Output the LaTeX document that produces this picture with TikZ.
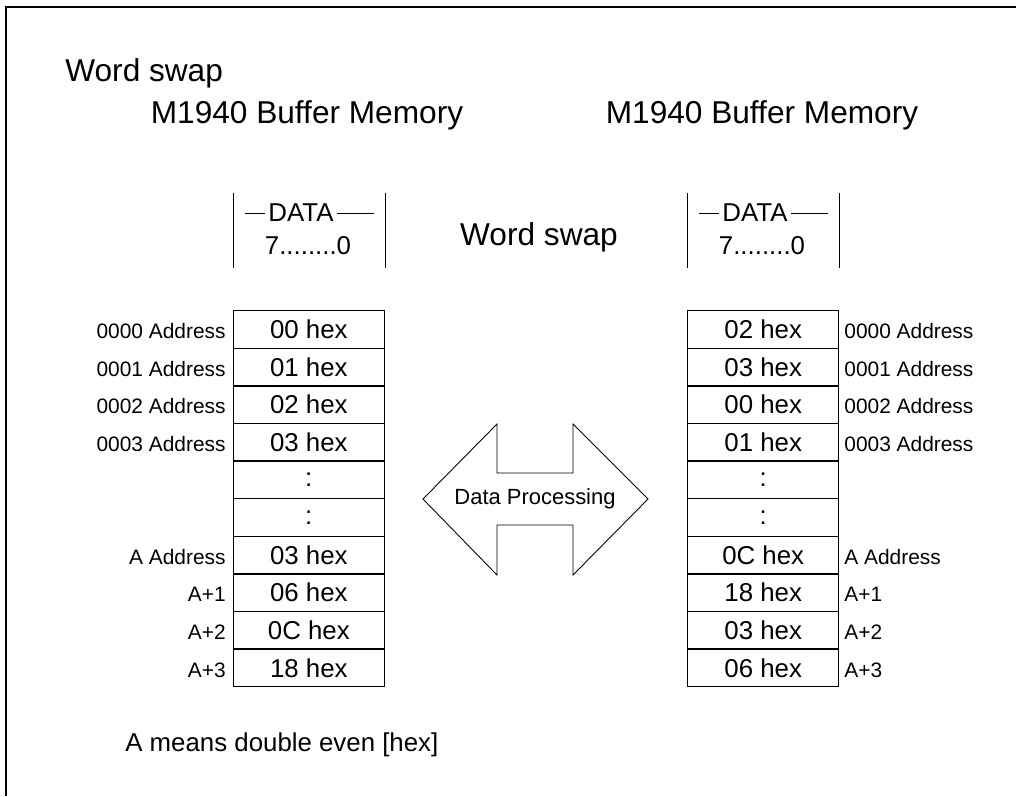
\documentclass[tikz,border=0pt]{standalone}
\usepackage{fontspec}
\setmainfont{Liberation Sans}
\usepackage{tikz}
\usetikzlibrary{matrix}
\usetikzlibrary{positioning}

\newcommand\titlefont{\fontsize{18}{21}\selectfont}
\newcommand\cellfont{\fontsize{14.7}{17}\selectfont}
\newcommand\addrfont{\fontsize{11.9}{14}\selectfont}

\tikzset{
   memcell/.style={draw, line width=0.8pt, inner sep=0pt, anchor=base,
      minimum width=3.02cm, minimum height=0.752cm, font=\cellfont},
   addrlabel/.style={inner sep=0pt, font=\addrfont},
   bar/.style={line width=0.5pt},
}

\begin{document}
\begin{tikzpicture}[x=0.02cm, y=-0.02cm]
   \useasboundingbox (0,0) rectangle (1016,796);
   \draw[line width=1.3pt] (6,796) -- (6,7) -- (1016,7);

   \node[anchor=west, inner sep=0pt, font=\titlefont] (title) at (65,73) {Word swap};
   \node[font=\titlefont] (memL) at (307,115) {M1940 Buffer Memory};
   \node[font=\titlefont] (memR) at (762,115) {M1940 Buffer Memory};
   \node[font=\titlefont] (swap) at (539,237) {Word swap};

   \node[font=\cellfont, inner sep=0.06cm] (dataL) at (301,213) {DATA};
   \draw[bar] (dataL.west) -- ++(-20,0);
   \draw[bar] (dataL.east) -- ++(37,0);
   \node[font=\cellfont] (bitsL) at (308,246) {7........0};
   \draw[bar] (233,193) -- (233,268);
   \draw[bar] (385,193) -- (385,268);

   \node[font=\cellfont, inner sep=0.06cm] (dataR) at (755,213) {DATA};
   \draw[bar] (dataR.west) -- ++(-20,0);
   \draw[bar] (dataR.east) -- ++(37,0);
   \node[font=\cellfont] (bitsR) at (762,246) {7........0};
   \draw[bar] (687,193) -- (687,268);
   \draw[bar] (839,193) -- (839,268);

   \matrix(L) [
      matrix of nodes,
      matrix anchor=north east, inner sep=0pt, outer sep=0pt,
      column sep=0.14cm, row sep=-0.8pt,
      column 1/.style={nodes={addrlabel, anchor=base east}},
      column 2/.style={nodes={memcell}}
   ] at (385,310) {
      0000 Address & 00 hex \\
      0001 Address & 01 hex \\
      0002 Address & 02 hex \\
      0003 Address & 03 hex \\
                   & :      \\
                   & :      \\
      A Address    & 03 hex \\
      A+1          & 06 hex \\
      A+2          & 0C hex \\
      A+3          & 18 hex \\
   };

   \matrix(R) [
      matrix of nodes,
      matrix anchor=north west, inner sep=0pt, outer sep=0pt,
      column sep=0.1cm, row sep=-0.8pt,
      column 1/.style={nodes={memcell}},
      column 2/.style={nodes={addrlabel, anchor=base west}}
   ] at (687,310) {
      02 hex & 0000 Address \\
      03 hex & 0001 Address \\
      00 hex & 0002 Address \\
      01 hex & 0003 Address \\
      :      &              \\
      :      &              \\
      0C hex & A Address    \\
      18 hex & A+1          \\
      03 hex & A+2          \\
      06 hex & A+3          \\
   };

   \draw[line width=0.5pt] (423,499) -- (497,424) -- (497,473) -- (573,473)
      -- (573,424) -- (648,499) -- (573,575) -- (573,525) -- (497,525)
      -- (497,575) -- cycle;
   \node[font=\fontsize{12.5}{15}\selectfont] (proc) at (535,499) {Data Processing};

   \node[anchor=west, inner sep=0pt, font=\cellfont] (note) at (125,745) {A means double even [hex]};
\end{tikzpicture}
\end{document}
